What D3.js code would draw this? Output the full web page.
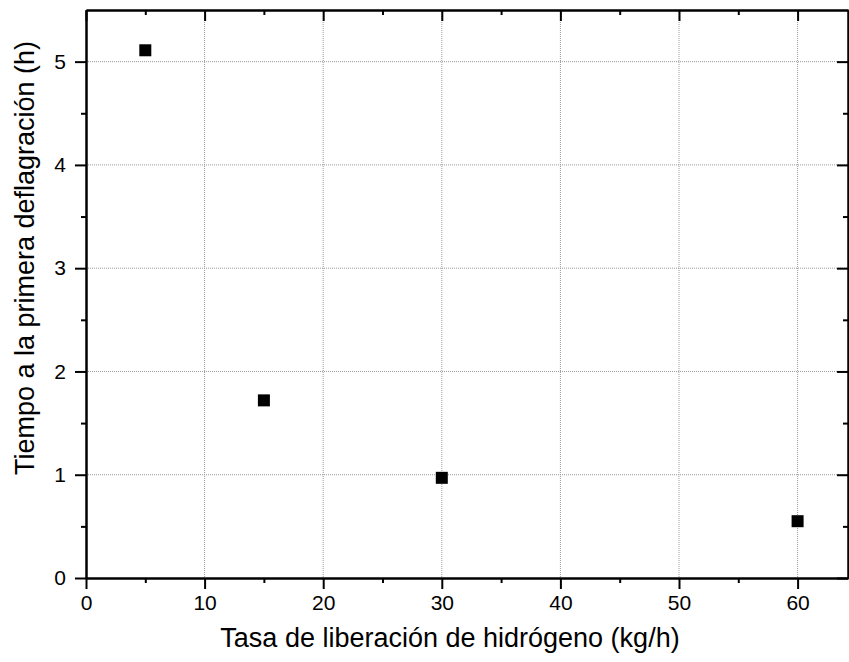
<!DOCTYPE html>
<html><head><meta charset="utf-8">
<script src="https://cdn.jsdelivr.net/npm/d3@7"></script>
<style>body{margin:0;background:#fff}svg{display:block;font-family:"Liberation Sans",Arial,sans-serif}</style>
</head><body>
<svg id="c" width="849" height="662"></svg>
<script>
const xValues = [5, 15, 30, 60];
const yValues = [5.11, 1.72, 0.97, 0.55];
const xTicks = [0, 10, 20, 30, 40, 50, 60];
const yTicks = [0, 1, 2, 3, 4, 5];
const xMinor = [5, 15, 25, 35, 45, 55];
const yMinor = [0.5, 1.5, 2.5, 3.5, 4.5];
const xTitle = "Tasa de liberación de hidrógeno (kg/h)";
const yTitle = "Tiempo a la primera deflagración (h)";

const L = 86, R = 848, T = 10, B = 578;
const svg = d3.select("#c");
const x = d3.scaleLinear().domain([0, 64.25]).range([L, R]);
const y = d3.scaleLinear().domain([0, 5.5]).range([B, T]);

// grid
const g = svg.append("g");
g.selectAll(".gx").data(xTicks.filter(d => d > 0)).enter().append("line")
  .attr("x1", d => x(d)).attr("x2", d => x(d)).attr("y1", T).attr("y2", B)
  .attr("stroke", "#9a9a9a").attr("stroke-width", 1).attr("stroke-dasharray", "1,1");
g.selectAll(".gy").data(yTicks.filter(d => d > 0)).enter().append("line")
  .attr("y1", d => y(d)).attr("y2", d => y(d)).attr("x1", L).attr("x2", R)
  .attr("stroke", "#9a9a9a").attr("stroke-width", 1).attr("stroke-dasharray", "1,1");

// axes
const ax = svg.append("g");
const axisStyle = sel => { sel.select(".domain").attr("stroke", "#000").attr("stroke-width", 2);
  sel.selectAll(".tick line").attr("stroke", "#000").attr("stroke-width", 2);
  sel.selectAll("text").attr("font-size", 21).attr("fill", "#000").attr("font-family", "Liberation Sans, Arial, sans-serif"); };

ax.append("g").attr("transform", `translate(0,${B})`)
  .call(d3.axisBottom(x).tickValues(xTicks).tickSize(11).tickSizeOuter(0).tickPadding(6).tickFormat(d3.format("d")))
  .call(axisStyle);
ax.append("g").attr("transform", `translate(0,${B})`)
  .call(d3.axisBottom(x).tickValues(xMinor).tickSize(5).tickSizeOuter(0).tickFormat(""))
  .call(axisStyle);
ax.append("g").attr("transform", `translate(${L},0)`)
  .call(d3.axisLeft(y).tickValues(yTicks).tickSize(11).tickSizeOuter(0).tickPadding(9).tickFormat(d3.format("d")))
  .call(axisStyle);
ax.append("g").attr("transform", `translate(${L},0)`)
  .call(d3.axisLeft(y).tickValues(yMinor).tickSize(5).tickSizeOuter(0).tickFormat(""))
  .call(axisStyle);
// top (inward ticks)
ax.append("g").attr("transform", `translate(0,${T})`)
  .call(d3.axisTop(x).tickValues(xTicks).tickSize(-11).tickSizeOuter(0).tickFormat(""))
  .call(axisStyle);
ax.append("g").attr("transform", `translate(0,${T})`)
  .call(d3.axisTop(x).tickValues(xMinor).tickSize(-5).tickSizeOuter(0).tickFormat(""))
  .call(axisStyle);
// right (inward ticks)
ax.append("g").attr("transform", `translate(${R},0)`)
  .call(d3.axisRight(y).tickValues(yTicks).tickSize(-11).tickSizeOuter(0).tickFormat(""))
  .call(axisStyle);
ax.append("g").attr("transform", `translate(${R},0)`)
  .call(d3.axisRight(y).tickValues(yMinor).tickSize(-5).tickSizeOuter(0).tickFormat(""))
  .call(axisStyle);

// points
const data = xValues.map((v, i) => ({x: v, y: yValues[i]}));
svg.append("g").selectAll("rect").data(data).enter().append("rect")
  .attr("x", d => x(d.x) - 6).attr("y", d => y(d.y) - 6)
  .attr("width", 12).attr("height", 12).attr("fill", "#000");

// titles
svg.append("text").attr("x", 450).attr("y", 647).attr("text-anchor", "middle")
  .attr("font-size", 27).text(xTitle);
svg.append("text").attr("transform", `translate(34,258) rotate(-90)`).attr("text-anchor", "middle")
  .attr("font-size", 27).text(yTitle);
</script>
</body></html>
